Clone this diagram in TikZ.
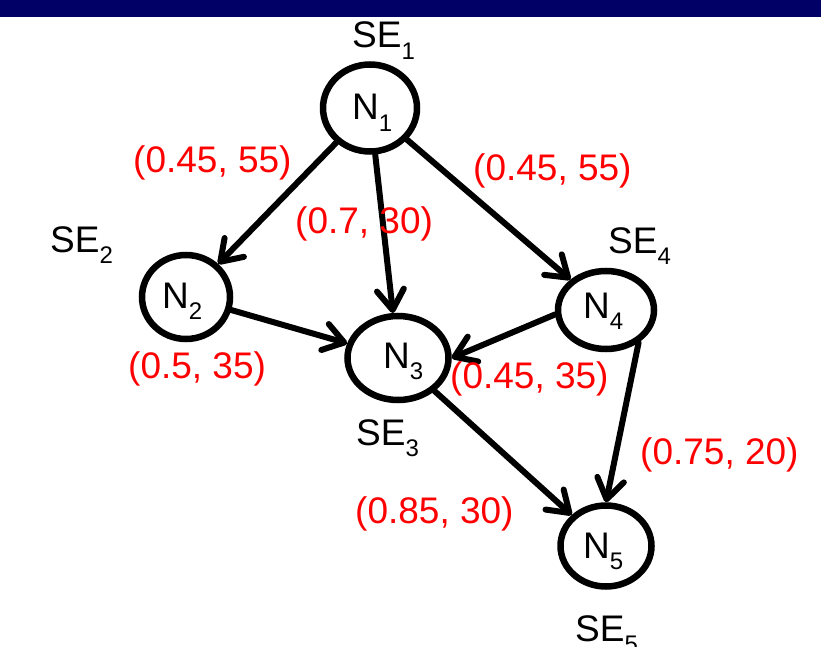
\documentclass[tikz,border=0pt]{standalone}
\usepackage{fontspec}
\setmainfont{Liberation Sans}
\usetikzlibrary{arrows.meta,shapes.geometric}
\definecolor{navybar}{HTML}{000066}
\newcommand\idx[1]{\raisebox{-0.3em}{\fontsize{24}{24}\selectfont #1}}
\begin{document}
\begin{tikzpicture}[x=1pt,y=-1pt,
  state/.style={ellipse, draw, line width=6.5pt, inner sep=0pt},
  link/.style={line width=6pt, line cap=round,
    -{Straight Barb[length=20pt,width=27pt,round]}},
  statetext/.style={font=\fontsize{37}{37}\selectfont, inner sep=0pt, anchor=base west},
  wtext/.style={font=\fontsize{37}{37}\selectfont, text=red, inner sep=0pt, anchor=base west}]
\useasboundingbox (0,0) rectangle (821,647);
\fill[navybar] (0,0) rectangle (821,17);

% states
\node[state, minimum width=94pt, minimum height=87pt] (n1) at (370,108) {};
\node[state, minimum width=88pt, minimum height=84pt] (n2) at (186,297) {};
\node[state, minimum width=101pt, minimum height=84pt] (n3) at (398,358) {};
\node[state, minimum width=96pt, minimum height=78pt] (n4) at (606,310) {};
\node[state, minimum width=91pt, minimum height=81pt] (n5) at (606,546) {};

% state names
\node[statetext] (t1) at (352,120) {N\idx{1}};
\node[statetext] (t2) at (162,308) {N\idx{2}};
\node[statetext] (t3) at (383,368) {N\idx{3}};
\node[statetext] (t4) at (583,318) {N\idx{4}};
\node[statetext] (t5) at (583,558) {N\idx{5}};

% SE labels
\node[statetext] (s1) at (352,48) {SE\idx{1}};
\node[statetext] (s2) at (50,252) {SE\idx{2}};
\node[statetext] (s3) at (356,445) {SE\idx{3}};
\node[statetext] (s4) at (608,253) {SE\idx{4}};
\node[statetext] (s5) at (575,641) {SE\idx{5}};

% transitions
\draw[link] (n1) -- (n2);
\draw[link] (n1) -- (n3);
\draw[link] (n1) -- (n4);
\draw[link] (n2) -- (n3);
\draw[link] (n4.185) -- (n3.east);
\draw[link] (n3) -- (n5);
\draw[link] (n4.-45) -- (n5.north);

% weights
\node[wtext] (w12) at (133,172) {(0.45, 55)};
\node[wtext] (w13) at (295,233) {(0.7, 30)};
\node[wtext] (w14) at (473,180) {(0.45, 55)};
\node[wtext] (w23) at (128,378) {(0.5, 35)};
\node[wtext] (w43) at (450,388) {(0.45, 35)};
\node[wtext] (w45) at (640,464) {(0.75, 20)};
\node[wtext] (w35) at (355,523) {(0.85, 30)};
\end{tikzpicture}
\end{document}
